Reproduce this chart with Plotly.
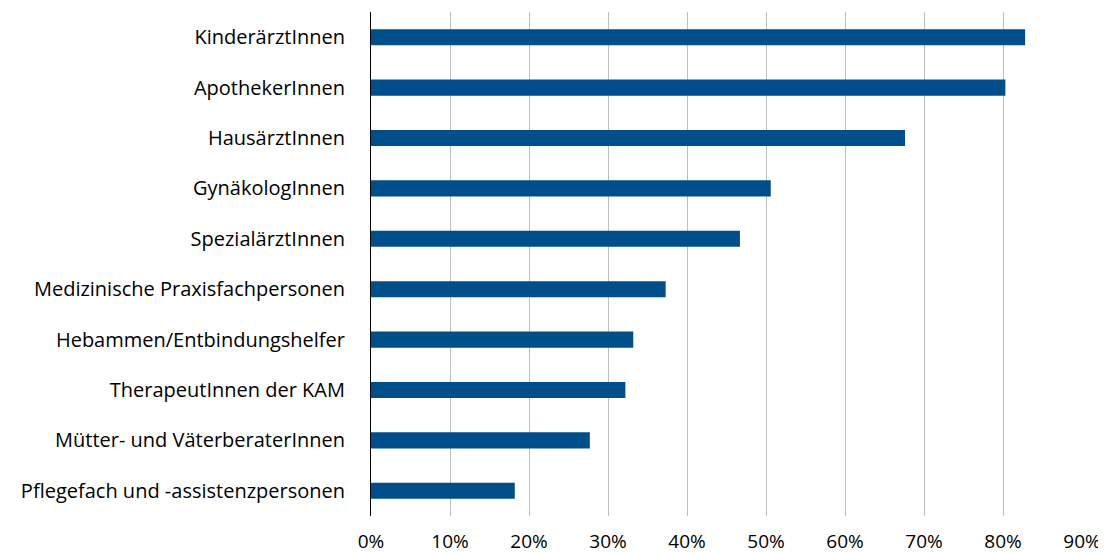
import plotly.graph_objects as go

categories = [
    "KinderärztInnen",
    "ApothekerInnen",
    "HausärztInnen",
    "GynäkologInnen",
    "SpezialärztInnen",
    "Medizinische Praxisfachpersonen",
    "Hebammen/Entbindungshelfer",
    "TherapeutInnen der KAM",
    "Mütter- und VäterberaterInnen",
    "Pflegefach und -assistenzpersonen",
]
values = [0.828, 0.803, 0.676, 0.506, 0.467, 0.373, 0.332, 0.322, 0.277, 0.182]
tick_vals = [0, 0.1, 0.2, 0.3, 0.4, 0.5, 0.6, 0.7, 0.8, 0.9]
tick_text = ["0%", "10%", "20%", "30%", "40%", "50%", "60%", "70%", "80%", "90%"]

fig = go.Figure(
    go.Bar(
        x=values,
        y=categories,
        orientation="h",
        width=0.32,
        marker=dict(color="#004F8A", line=dict(width=0)),
    )
)

# the page body adds an 8px offset, so the figure is sized to end at the window edge
fig.update_layout(
    width=1098,
    height=545,
    margin=dict(l=363, r=24, t=4, b=37),
    paper_bgcolor="white",
    plot_bgcolor="white",
    font=dict(family="Open Sans", size=20, color="#000000"),
    showlegend=False,
)
fig.update_xaxes(
    range=[0, 0.9],
    tickvals=tick_vals,
    ticktext=tick_text,
    showgrid=True,
    gridcolor="#BFBFBF",
    gridwidth=1,
    zeroline=False,
    showline=False,
    ticks="",
    ticklabelstandoff=12,
    automargin=False,
    tickfont=dict(size=19),
)
fig.update_yaxes(
    autorange="reversed",
    showgrid=False,
    zeroline=False,
    showline=True,
    linecolor="#000000",
    linewidth=1,
    ticks="",
    ticklabelstandoff=21,
    automargin=False,
    tickfont=dict(size=20),
)

fig.write_html("out.html")
